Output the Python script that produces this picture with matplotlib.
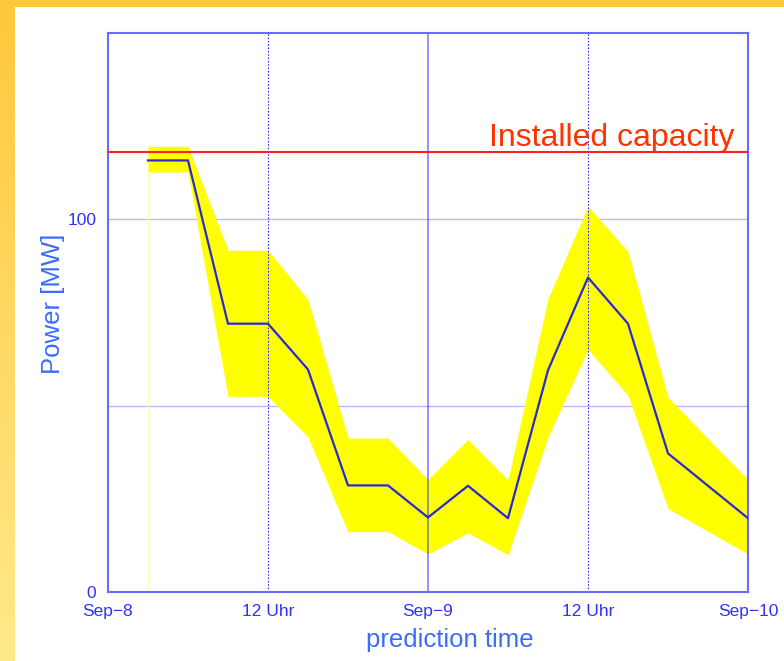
import numpy as np
import matplotlib.pyplot as plt
from matplotlib.patches import Rectangle
from matplotlib.colors import LinearSegmentedColormap

plt.rcParams['font.family'] = ['Liberation Sans', 'DejaVu Sans']

# prediction time in hours after Sep-8 00:00
hours = [3, 6, 9, 12, 15, 18, 21, 24, 27, 30, 33, 36, 39, 42, 45, 48]
# forecast power [MW]
power = [115.8, 115.8, 72.0, 72.0, 59.7, 28.6, 28.6, 20.0, 28.5, 19.8, 59.5, 84.4, 72.0, 37.2, 28.5, 19.8]
# uncertainty band
upper = [119.6, 119.6, 91.7, 91.7, 78.5, 41.3, 41.3, 30.2, 40.9, 30.1, 78.7, 103.5, 91.4, 52.2, 41.2, 30.2]
lower = [112.7, 112.7, 52.5, 52.5, 41.6, 16.2, 16.2, 10.2, 15.9, 10.0, 41.6, 65.1, 52.8, 22.4, 16.3, 10.2]
capacity = 118

xticks = [0, 12, 24, 36, 48]
xticklabels = ['Sep\u22128', '12 Uhr', 'Sep\u22129', '12 Uhr', 'Sep\u221210']

fig = plt.figure(figsize=(7.84, 6.61), dpi=100)

# yellow slide frame (left strip with gradient, top strip)
bg = fig.add_axes([0, 0, 1, 1], zorder=-5)
bg.axis('off')
bg.set_xlim(0, 784)
bg.set_ylim(661, 0)
grad = np.linspace(0, 1, 256).reshape(-1, 1)
cmap = LinearSegmentedColormap.from_list('frame', ['#FFC83C', '#FFE98A'])
bg.imshow(grad, cmap=cmap, extent=[0, 15, 661, 0], aspect='auto')
bg.add_patch(Rectangle((0, 0), 784, 7, color='#FFC83C', lw=0))

ax = fig.add_axes([108 / 784, 69 / 661, 640 / 784, 559 / 661])

# horizontal grid under the band
for yv in [50, 100]:
    ax.axhline(yv, color='#b8b8ff', lw=1, zorder=0)

ax.fill_between(hours, lower, upper, color='#ffff00', lw=0, zorder=1)
ax.plot([hours[0], hours[0]], [0, lower[0]], color='#ffffb0', lw=1, zorder=1)
ax.plot(hours, power, color='#2a2ad0', lw=1.6, zorder=3)

# vertical grid over the band
ax.axvline(24, color='#0000ff', alpha=0.45, lw=1.3, zorder=2)
for xv in [12, 36]:
    ax.axvline(xv, color='#3030ff', lw=0.8, ls=(0, (1.5, 1.5)), zorder=2)

ax.axhline(capacity, color='#ff2020', lw=1.5, zorder=4)
ax.text(47.0, capacity + 1.8, 'Installed capacity', color='#ff3300',
        fontsize=23, ha='right', va='baseline')

ax.set_xlim(0, 48)
ax.set_ylim(0, 150)
ax.set_xticks(xticks)
ax.set_xticklabels(xticklabels)
ax.set_yticks([0, 100])
ax.set_yticklabels(['0', '100'])
ax.tick_params(length=0, colors='#3030ff', labelsize=12.5, pad=8.5)
for s in ax.spines.values():
    s.set_color('#6a6aff')
    s.set_linewidth(1.5)

ax.set_xlabel('prediction time', color='#3a6cff', fontsize=18.5, labelpad=4)
ax.xaxis.set_label_coords(0.534, -0.064)
ax.set_ylabel('Power [MW]', color='#3a6cff', fontsize=18.5, labelpad=2)
ax.yaxis.set_label_coords(-0.067, 0.515)

fig.savefig('out.png', dpi=100)
